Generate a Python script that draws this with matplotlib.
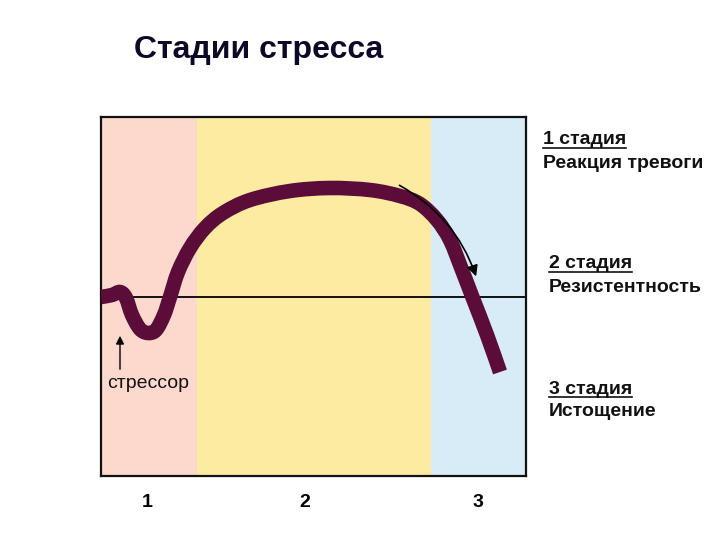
import matplotlib
matplotlib.use("Agg")
import matplotlib.pyplot as plt
import numpy as np
from matplotlib.lines import Line2D
from matplotlib.path import Path
from matplotlib.patches import PathPatch

plt.rcParams['font.family'] = ['Liberation Sans', 'DejaVu Sans']

# stage bands (x ranges in plot units)
STAGE_EDGES = [0, 96, 330, 425]
STAGE_COLORS = ["#fcd8cd", "#fdeba2", "#d8ecf8"]
STAGE_TICKS = [46, 204, 377]
STAGE_TICK_LABELS = ["1", "2", "3"]
BASELINE = 179

# resistance curve
CURVE_X = [0, 11, 19, 25, 31, 39, 47, 55, 63, 69, 77, 89, 104, 122, 149, 189,
           229, 269, 299, 319, 336, 349, 361, 371, 386, 399]
CURVE_Y = [179, 181, 184, 178, 161, 147, 143, 146, 161, 179, 204, 228, 248, 263,
           276, 285, 288, 286, 280, 272, 256, 236, 206, 180, 141, 104]

STAGE_TITLES = ["1 стадия", "2 стадия", "3 стадия"]
STAGE_NAMES = ["Реакция тревоги", "Резистентность", "Истощение"]


def smooth_path(xs, ys):
    # Catmull-Rom through the points, written as cubic Bezier segments
    p = np.column_stack([xs, ys]).astype(float)
    verts = [p[0]]
    codes = [Path.MOVETO]
    for i in range(len(p) - 1):
        p0 = p[i - 1] if i > 0 else p[i]
        p3 = p[i + 2] if i + 2 < len(p) else p[i + 1]
        c1 = p[i] + (p[i + 1] - p0) / 6
        c2 = p[i + 1] - (p3 - p[i]) / 6
        verts += [c1, c2, p[i + 1]]
        codes += [Path.CURVE4] * 3
    return Path(verts, codes)


W, H = 720, 540
fig = plt.figure(figsize=(W / 100, H / 100), dpi=100)
fig.patch.set_facecolor("white")
ax = fig.add_axes([101 / W, (H - 476) / H, 425 / W, 359 / H])
ax.set_xlim(STAGE_EDGES[0], STAGE_EDGES[-1])
ax.set_ylim(0, 359)

for (a, b), c in zip(zip(STAGE_EDGES[:-1], STAGE_EDGES[1:]), STAGE_COLORS):
    ax.axvspan(a, b, color=c, lw=0, zorder=0)

ax.axhline(BASELINE, color="#111111", lw=1.4, zorder=2)
ax.add_patch(PathPatch(smooth_path(CURVE_X, CURVE_Y), facecolor="none",
                       edgecolor="#5b0c38", lw=10.5, capstyle="butt",
                       joinstyle="round", zorder=3))

# curved arrow showing decline
ax.annotate("", xy=(376, 197), xytext=(296, 292),
            arrowprops=dict(arrowstyle="-|>", color="black", lw=1.2,
                            mutation_scale=16, connectionstyle="arc3,rad=-0.2"),
            zorder=4)
# stressor arrow
ax.annotate("", xy=(19, 143), xytext=(19, 104),
            arrowprops=dict(arrowstyle="-|>", color="black", lw=1.0, mutation_scale=12))
ax.text(47, 93, "стрессор", ha="center", va="center", fontsize=14,
        color="#111111")

ax.set_xticks(STAGE_TICKS, STAGE_TICK_LABELS, fontsize=14, fontweight="bold")
ax.tick_params(axis="x", length=0, pad=13)
ax.set_yticks([])
for s in ax.spines.values():
    s.set_color("#111111")
    s.set_linewidth(1.6)

fig.text(259 / W, 1 - 50 / H, "Стадии стресса", ha="center", va="center",
         fontsize=23, fontweight="bold", color="#0a0a28")

label_pos = [(543, 140), (549, 264), (549, 389)]
title_texts = []
for (x, y), t, n in zip(label_pos, STAGE_TITLES, STAGE_NAMES):
    tt = fig.text(x / W, 1 - y / H, t, ha="left", va="center", fontsize=14,
                  fontweight="bold", color="#111111")
    title_texts.append(tt)
    fig.text(x / W, 1 - (y + 23) / H, n, ha="left", va="center", fontsize=14,
             fontweight="bold", color="#111111")

# underline stage titles
fig.canvas.draw()
r = fig.canvas.get_renderer()
for tt in title_texts:
    bb = tt.get_window_extent(r)
    yl = (bb.y0 + 1) / H
    fig.add_artist(Line2D([bb.x0 / W, bb.x1 / W], [yl, yl], color="#111111", lw=1.2,
                          transform=fig.transFigure))

fig.savefig("out.png", dpi=100)
